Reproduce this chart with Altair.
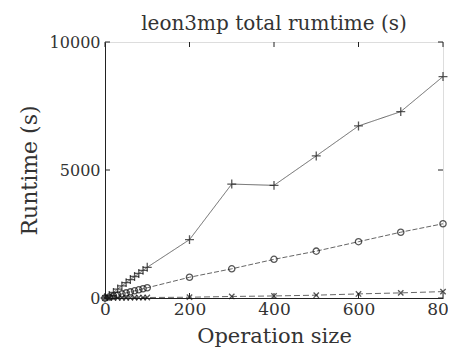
import altair as alt
import pandas as pd

sizes = [0, 10, 20, 30, 40, 50, 60, 70, 80, 90, 100, 200, 300, 400, 500, 600, 700, 800]
total_plus = [0, 100, 220, 350, 470, 600, 720, 840, 960, 1080, 1200, 2280, 4450, 4400, 5550, 6720, 7280, 8650]
total_circle = [0, 40, 80, 120, 160, 200, 240, 280, 320, 360, 400, 810, 1140, 1510, 1830, 2200, 2570, 2900]
total_cross = [0, 2, 4, 6, 8, 10, 12, 14, 16, 18, 20, 30, 60, 80, 110, 160, 200, 250]
series_names = ["plus", "circle", "cross"]
x_ticks = [0, 200, 400, 600, 800]
y_ticks = [0, 5000, 10000]

rows = []
for name, vals in zip(series_names, [total_plus, total_circle, total_cross]):
    for s, v in zip(sizes, vals):
        rows.append({"size": s, "runtime": v, "series": name})
df = pd.DataFrame(rows)

W, H = 338, 256
FONT = "DejaVu Serif"

xs = alt.Scale(domain=[0, 800], nice=False)
ys = alt.Scale(domain=[0, 10000], nice=False)

xaxis = alt.Axis(values=x_ticks, ticks=False, grid=False, title="Operation size", format="d",
                 labelFont=FONT, titleFont=FONT, labelFontSize=17, titleFontSize=21,
                 titleFontWeight="normal", labelColor="#333", titleColor="#333",
                 domainColor="#222", labelPadding=3, titlePadding=8, labelFlush=False)
yaxis = alt.Axis(values=y_ticks, ticks=False, grid=False, title="Runtime (s)", format="d",
                 labelFont=FONT, titleFont=FONT, labelFontSize=16, titleFontSize=22,
                 titleFontWeight="normal", labelColor="#333", titleColor="#333",
                 domainColor="#222", labelPadding=5, titlePadding=8, labelFlush=False)

base = alt.Chart(df)

lines = base.mark_line(strokeWidth=1, color="#666").encode(
    x=alt.X("size:Q", scale=xs, axis=xaxis),
    y=alt.Y("runtime:Q", scale=ys, axis=yaxis),
    detail="series:N",
    strokeDash=alt.StrokeDash("series:N", scale=alt.Scale(domain=series_names,
                              range=[[1, 0], [5, 2], [6, 3]]), legend=None),
)

points = base.mark_point(filled=False, strokeWidth=1.3, size=80, color="#111").encode(
    x=alt.X("size:Q", scale=xs),
    y=alt.Y("runtime:Q", scale=ys),
    shape=alt.Shape("series:N", scale=alt.Scale(domain=series_names,
                    range=["M-1,0L1,0M0,-1L0,1",
                           "M0.7,0A0.7,0.7 0 1,1 -0.7,0A0.7,0.7 0 1,1 0.7,0Z",
                           "M-0.6,-0.6L0.6,0.6M-0.6,0.6L0.6,-0.6"]),
                    legend=None),
)

xt = pd.DataFrame({"t": x_ticks})
yt = pd.DataFrame({"t": y_ticks})
tick_color = "#222"
xb = alt.Chart(xt).mark_rule(color=tick_color).encode(x=alt.X("t:Q", scale=xs), y=alt.value(H), y2=alt.value(H - 5))
xtp = alt.Chart(xt).mark_rule(color=tick_color).encode(x=alt.X("t:Q", scale=xs), y=alt.value(0), y2=alt.value(5))
yl = alt.Chart(yt).mark_rule(color=tick_color).encode(y=alt.Y("t:Q", scale=ys), x=alt.value(0), x2=alt.value(5))
yr = alt.Chart(yt).mark_rule(color=tick_color).encode(y=alt.Y("t:Q", scale=ys), x=alt.value(W), x2=alt.value(W - 5))

chart = alt.layer(lines, points, xb, xtp, yl, yr).properties(
    width=W, height=H,
    title=alt.Title("leon3mp total rumtime (s)", font=FONT, fontSize=20, fontWeight="normal",
                    color="#333", offset=0),
    autosize=alt.AutoSizeParams(type="none"),
    padding={"left": 97, "top": 34, "right": 5, "bottom": 55},
).configure_view(stroke="#222", strokeWidth=1).configure(background="white")

chart.save("out.html", embed_options={"renderer": "svg", "actions": False})
